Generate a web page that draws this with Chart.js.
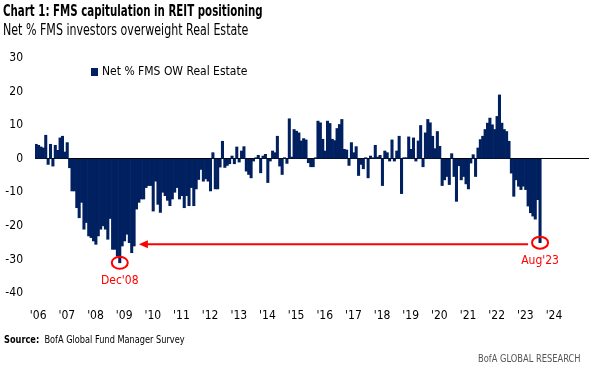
<!DOCTYPE html>
<html>
<head>
<meta charset="utf-8">
<script src="https://cdn.jsdelivr.net/npm/chart.js@4.4.0/dist/chart.umd.min.js"></script>
<style>
  html, body { margin: 0; padding: 0; background: #fff; }
  body {
    width: 604px; height: 375px; position: relative; overflow: hidden;
    font-family: "Liberation Sans Narrow", "DejaVu Sans Condensed", Roboto, sans-serif;
    color: #000;
  }
  .txt { position: absolute; white-space: nowrap; transform-origin: 0 0; }
  #title { left: 3px; top: 2px; font-size: 15px; font-weight: bold; transform: scaleX(0.76); }
  #subtitle { left: 3px; top: 21px; font-size: 15px; transform: scaleX(0.82); }
  #wrap { position: absolute; left: 0; top: 0; width: 604px; height: 375px; }
  #source { left: 4px; top: 333px; font-size: 11px; transform: scaleX(0.83); }
  #brand { left: 478px; top: 352px; font-size: 11px; color: #555; transform: scaleX(0.84); }
</style>
</head>
<body>
<div id="wrap"><canvas id="reitChart" width="604" height="375"></canvas></div>
<div id="title" class="txt">Chart 1: FMS capitulation in REIT positioning</div>
<div id="subtitle" class="txt">Net % FMS investors overweight Real Estate</div>
<div id="source" class="txt"><b>Source:</b>&nbsp; BofA Global Fund Manager Survey</div>
<div id="brand" class="txt">BofA GLOBAL RESEARCH</div>

<script>
(function (window) {

    // years on the axis, one tick label per January
    var years = [2006, 2007, 2008, 2009, 2010, 2011, 2012, 2013, 2014, 2015,
                 2016, 2017, 2018, 2019, 2020, 2021, 2022, 2023, 2024, 2025];
    var yearLabels = ["'06", "'07", "'08", "'09", "'10", "'11", "'12", "'13", "'14", "'15",
                      "'16", "'17", "'18", "'19", "'20", "'21", "'22", "'23", "'24", ""];
    var lastMonth = '2025-04';

    // Net % FMS OW Real Estate, monthly from Jan 2006 to Aug 2023
    var owRealEstate = [
        4.3, 4, 3.5, 3.2, 7, -1.7, 4.3, -2.2, 4, 2.5, 6.2, 6.7,                 // 2006
        2, 4.8, -2.7, -9.6, -9.6, -14.6, -17.6, -13, -21, -19, -23, -23.5,      // 2007
        -24.5, -25.5, -23, -21, -20, -21, -24, -17.8, -27, -27, -29, -31,       // 2008
        -26, -24.5, -22.5, -25, -28, -26, -15, -13, -12, -12, -8.6, -8,         // 2009
        -8, -15.6, -6.7, -13.6, -16, -10, -11, -12.4, -14, -12, -10, -8.6,      // 2010
        -12, -11, -14.6, -11, -14, -8.6, -14, -9, -6.2, -3.2, -6.7, -6,         // 2011
        -6.7, -9.6, 1.8, -9, -9, -2.5, 5.2, -2.6, -2, -1.5, 0.8, -1.5,          // 2012
        3.5, -1, 2.3, 3.6, -3.7, -4.7, -5.7, -0.7, 0.3, 1, -4.2, 0.8,           // 2013
        1.3, -7.1, -0.7, 2.3, 1.8, 6.7, -2.2, -4.7, 0.3, -1.4, 11.9, 0.5,       // 2014
        8.7, 8.2, 7.7, 5.3, 6, 5.6, -1.2, -2.4, -2.4, 0.3, 11.2, 10.7,          // 2015
        5.8, 2.3, 11.2, 10.5, 5.8, 5.4, 9, 10.2, 11.7, 2.8, 2.6, -2,            // 2016
        4.8, 1.8, 3.6, -5, -1.7, -3, 0.3, -5.7, 0.8, 0.3, 4, 0.5,               // 2017
        1, -8, 2.3, 1.8, -0.7, 5.6, -0.7, 2.3, 6.7, -10.4, 0.3, 0.3,            // 2018
        6.5, 2.8, 6.2, -0.7, 5.3, 9.9, -2.4, 7.7, 11.7, 10.7, 6.7, 3,           // 2019
        8.1, 3.7, -8, -6.3, -5.3, -7.7, 1.5, -5.3, -12.7, -2.1, -6.3, -5.3,     // 2020
        -7.5, -9, -1.3, 1.2, -5.3, 3.2, 5.7, 6.7, 8.7, 10.6, 12.1, 10.1,        // 2021
        8.7, 12.6, 19, 10.6, 8.7, 8.1, 5.2, -4.3, -11.2, -6.3, -8.2, -9.2,      // 2022
        -8.2, -9.2, -14.1, -16.1, -17.1, -18, -12.2, -25                        // 2023
    ];

    // the two marked months and the arrow between them
    var markMonths = ['2008-12', '2023-08'];
    var markLabels = ["Dec'08", "Aug'23"];
    var arrowFrom = '2023-03';
    var arrowTo = '2009-08';
    var arrowLevel = -25.5;

    var months = [];
    years.forEach(function (yr) {
        for (var m = 1; m <= 12; m++) {
            var key = yr + '-' + (m < 10 ? '0' + m : m);
            if (key <= lastMonth) months.push(key);
        }
    });

    var navy = '#002060';
    var red = '#ff0000';
    var narrow = '"Liberation Sans Narrow", "DejaVu Sans Condensed", Roboto, sans-serif';

    // legend drawn inside the plot, top left
    var insideLegend = {
        id: 'insideLegend',
        afterDraw: function (chart) {
            var ctx = chart.ctx;
            var area = chart.chartArea;
            var ds = chart.data.datasets[0];
            var lx = area.left + 56;
            var ly = area.top + 14;
            ctx.save();
            ctx.fillStyle = ds.backgroundColor;
            ctx.fillRect(lx, ly - 4, 7, 8);
            ctx.fillStyle = '#000';
            ctx.font = '12px ' + narrow;
            ctx.textBaseline = 'middle';
            ctx.fillText(ds.label, lx + 11, ly);
            ctx.restore();
        }
    };

    // red circles, labels and arrow
    var callouts = {
        id: 'callouts',
        afterDatasetsDraw: function (chart) {
            var ctx = chart.ctx;
            var xs = chart.scales.x;
            var ys = chart.scales.y;
            ctx.save();
            ctx.strokeStyle = red;
            ctx.fillStyle = red;
            ctx.lineWidth = 2;
            ctx.font = '12px ' + narrow;
            ctx.textAlign = 'center';
            ctx.textBaseline = 'middle';
            markMonths.forEach(function (mk, k) {
                var i = months.indexOf(mk);
                var cx = xs.getPixelForValue(i);
                var cy = ys.getPixelForValue(owRealEstate[i]);
                ctx.beginPath();
                ctx.ellipse(cx, cy, 8, 6, 0, 0, Math.PI * 2);
                ctx.stroke();
                ctx.fillText(markLabels[k], cx, cy + 18);
            });

            var ay = ys.getPixelForValue(arrowLevel);
            var x0 = xs.getPixelForValue(months.indexOf(arrowFrom));
            var x1 = xs.getPixelForValue(months.indexOf(arrowTo));
            ctx.beginPath();
            ctx.moveTo(x0, ay);
            ctx.lineTo(x1 + 7, ay);
            ctx.stroke();
            ctx.beginPath();
            ctx.moveTo(x1, ay);
            ctx.lineTo(x1 + 9, ay - 4);
            ctx.lineTo(x1 + 9, ay + 4);
            ctx.closePath();
            ctx.fill();
            ctx.restore();
        }
    };

    function initializeChart() {
        var el = document.getElementById('reitChart');
        if (!el) {
            return;
        }

        new Chart(el.getContext('2d'), {
            type: 'bar',
            data: {
                labels: months,
                datasets: [
                    {
                        label: 'Net % FMS OW Real Estate',
                        data: owRealEstate,
                        backgroundColor: navy,
                        borderWidth: 0,
                        barPercentage: 1,
                        categoryPercentage: 1
                    }
                ]
            },
            options: {
                responsive: false,
                animation: false,
                layout: {
                    padding: { left: 0, top: 58, right: 15, bottom: 52 }
                },
                plugins: {
                    legend: { display: false },
                    tooltip: { enabled: false }
                },
                scales: {
                    x: {
                        grid: { display: false },
                        border: { display: false },
                        afterFit: function (scale) { scale.height = 30; },
                        ticks: {
                            autoSkip: false,
                            maxRotation: 0,
                            minRotation: 0,
                            padding: 8,
                            labelOffset: 2,
                            color: '#000',
                            font: { family: narrow, size: 12 },
                            callback: function (val, idx) {
                                var key = months[idx];
                                if (key.slice(5) !== '01') return null;
                                return yearLabels[years.indexOf(+key.slice(0, 4))];
                            }
                        }
                    },
                    y: {
                        min: -40,
                        max: 30,
                        afterFit: function (scale) { scale.width = 35; },
                        border: { display: false },
                        grid: {
                            drawTicks: false,
                            lineWidth: 1,
                            color: function (c) { return c.tick && c.tick.value === 0 ? '#000' : 'rgba(0,0,0,0)'; }
                        },
                        ticks: {
                            stepSize: 10,
                            padding: 12,
                            color: '#000',
                            font: { family: narrow, size: 12 }
                        }
                    }
                }
            },
            plugins: [insideLegend, callouts]
        });
    }

    document.addEventListener('DOMContentLoaded', initializeChart);

})(window);
</script>
</body>
</html>
